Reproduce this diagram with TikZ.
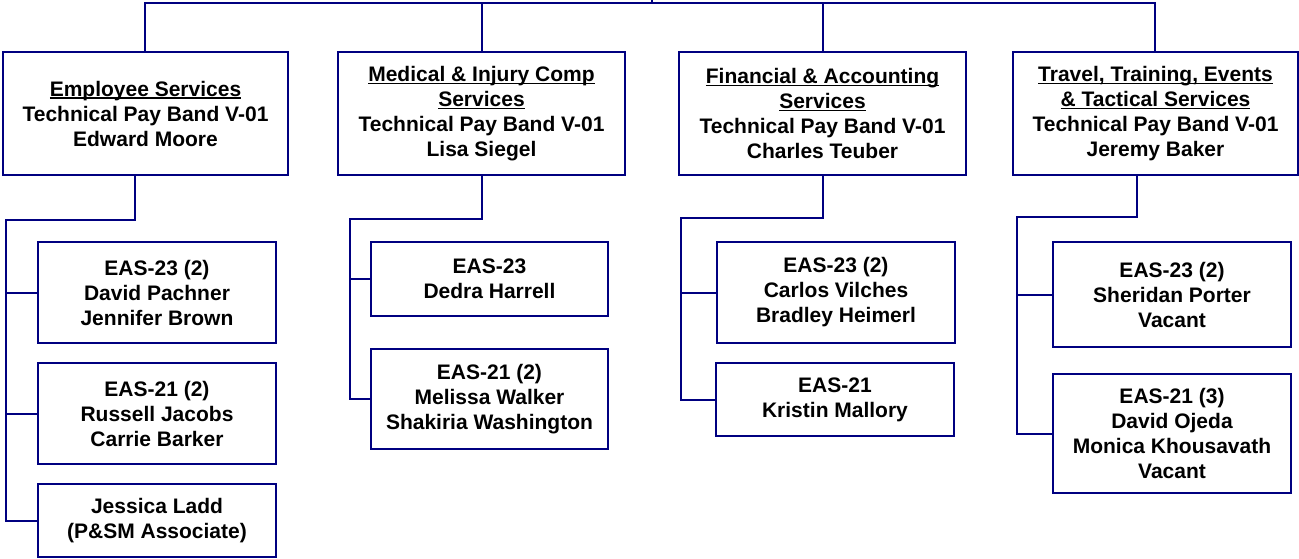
\documentclass[tikz,border=0pt]{standalone}
\usepackage{fontspec}
\setmainfont{Liberation Sans}
\definecolor{navy}{RGB}{0,0,128}
\newcommand\myul[1]{\setbox0\hbox{#1}\rlap{\rule[-2.6pt]{\wd0}{1.4pt}}\box0}
\tikzset{
  orgbox/.style={draw=navy, line width=2pt, inner sep=0pt, align=center,
    font=\fontsize{21}{25}\selectfont\bfseries, text=black},
  link/.style={draw=navy, line width=2pt},
}
\begin{document}
\begin{tikzpicture}[x=1pt,y=-1pt]
\useasboundingbox (0,0) rectangle (1299,559);
% top level boxes
\node[orgbox, minimum width=285pt, minimum height=123pt] (A) at (145.5,113.5)
  {\myul{Employee Services}\\Technical Pay Band V-01\\Edward Moore};
\node[orgbox, minimum width=287pt, minimum height=123pt] (B) at (481.5,113.5)
  {\myul{Medical \& Injury Comp}\\\myul{Services}\\Technical Pay Band V-01\\Lisa Siegel};
\node[orgbox, minimum width=287pt, minimum height=123pt] (C) at (822.5,113.5)
  {\myul{Financial \& Accounting}\\\myul{Services}\\Technical Pay Band V-01\\Charles Teuber};
\node[orgbox, minimum width=285pt, minimum height=123pt] (D) at (1155.5,113.5)
  {\myul{Travel, Training, Events}\\\myul{\& Tactical Services}\\Technical Pay Band V-01\\Jeremy Baker};
% children A
\node[orgbox, minimum width=238pt, minimum height=101pt] (A1) at (157,292.5)
  {EAS-23 (2)\\David Pachner\\Jennifer Brown};
\node[orgbox, minimum width=238pt, minimum height=101pt] (A2) at (157,413.5)
  {EAS-21 (2)\\Russell Jacobs\\Carrie Barker};
\node[orgbox, minimum width=238pt, minimum height=73pt] (A3) at (157,520.5)
  {Jessica Ladd\\(P\&SM Associate)};
% children B
\node[orgbox, minimum width=237pt, minimum height=74pt] (B1) at (489.5,279)
  {EAS-23\\Dedra Harrell};
\node[orgbox, minimum width=237pt, minimum height=100pt] (B2) at (489.5,399)
  {EAS-21 (2)\\Melissa Walker\\Shakiria Washington};
% children C
\node[orgbox, minimum width=238pt, minimum height=101pt] (C1) at (836,292.5)
  {EAS-23 (2)\\Carlos Vilches\\Bradley Heimerl};
\node[orgbox, minimum width=238pt, minimum height=73pt] (C2) at (835,399.5)
  {EAS-21\\Kristin Mallory};
% children D
\node[orgbox, minimum width=238pt, minimum height=105pt] (D1) at (1172,294.5)
  {EAS-23 (2)\\Sheridan Porter\\Vacant};
\node[orgbox, minimum width=238pt, minimum height=119pt] (D2) at (1172,433.5)
  {EAS-21 (3)\\David Ojeda\\Monica Khousavath\\Vacant};
% top bar
\coordinate (top) at (652,0);
\coordinate (barL) at (145,3);
\coordinate (barR) at (1155,3);
\draw[link] (top) -- (top |- barL);
\draw[link] (A.north -| barL) -- (barL) -- (barR) -- (D.north -| barR);
\draw[link] (B.north -| 482,0) -- (482,3);
\draw[link] (C.north -| 823,0) -- (823,3);
% column A
\coordinate (ea) at (135,220);
\coordinate (ba) at (6,220);
\draw[link] (A.south -| ea) -- (ea) -- (ba) |- (A3.west);
\draw[link] (ba |- A1.west) -- (A1.west);
\draw[link] (ba |- A2.west) -- (A2.west);
% column B
\coordinate (eb) at (482,219);
\coordinate (bb) at (350,219);
\draw[link] (B.south -| eb) -- (eb) -- (bb) |- (B2.west);
\draw[link] (bb |- B1.west) -- (B1.west);
% column C
\coordinate (ec) at (823,218);
\coordinate (bc) at (681,218);
\draw[link] (C.south -| ec) -- (ec) -- (bc) |- (C2.west);
\draw[link] (bc |- C1.west) -- (C1.west);
% column D
\coordinate (ed) at (1137,217);
\coordinate (bd) at (1017,217);
\draw[link] (D.south -| ed) -- (ed) -- (bd) |- (D2.west);
\draw[link] (bd |- D1.west) -- (D1.west);
\end{tikzpicture}
\end{document}
